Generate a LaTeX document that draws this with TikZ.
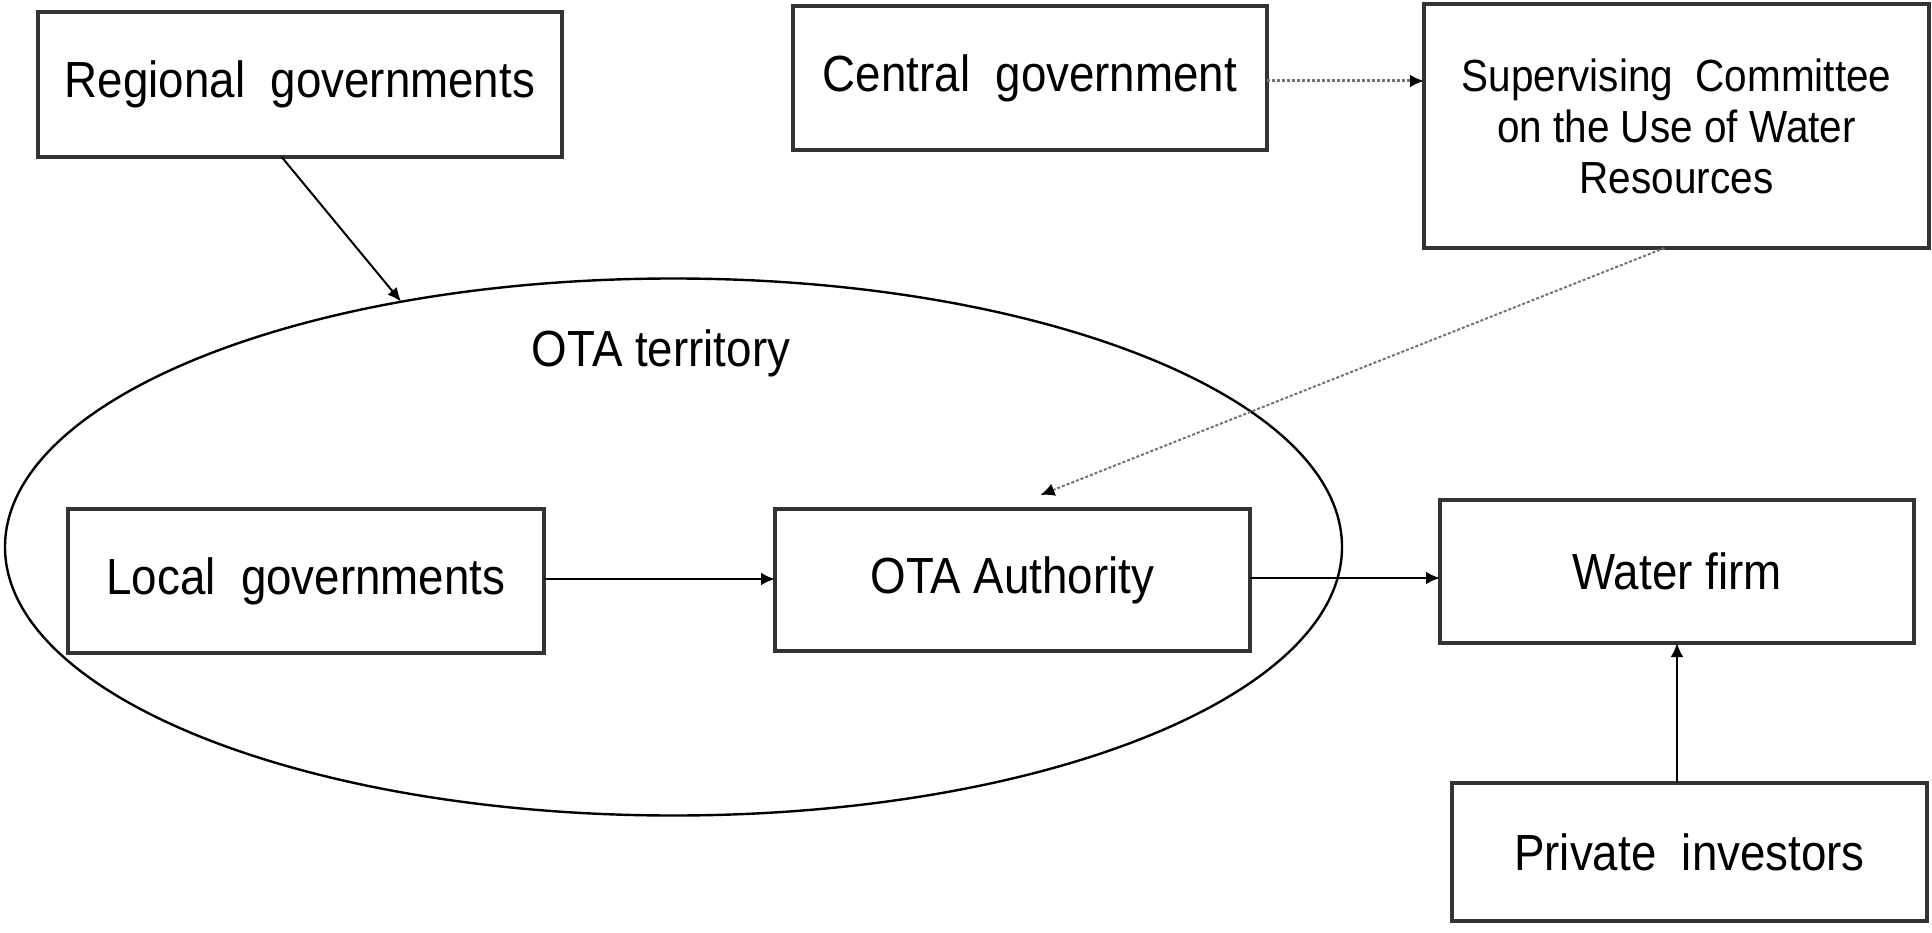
\documentclass[tikz,border=0pt]{standalone}
\usepackage{fontspec}
\setmainfont{Liberation Sans}[FakeStretch=0.9]
\usetikzlibrary{shapes.geometric,arrows.meta,calc}
\tikzset{
  box/.style={draw=black!80, line width=3.5pt, rectangle, inner sep=0pt, outer sep=0pt,
    align=center, font=\fontsize{50.8}{56}\selectfont},
  solidarrow/.style={draw=black, line width=2.8pt, -{Latex[length=14pt,width=13pt]}},
  dotarrow/.style={draw=black!55, line width=3pt, dash pattern=on 3pt off 2pt,
    -{Latex[length=14pt,width=13pt,fill=black,color=black]}},
  thinarrow/.style={draw=black, line width=2pt, -{Latex[length=14pt,width=12pt]}},
  label/.style={inner sep=0pt, font=\fontsize{50.8}{56}\selectfont}
}
\begin{document}
\begin{tikzpicture}[x=1pt,y=-1pt]
\useasboundingbox (0,0) rectangle (1932,933);
\fill[white] (0,0) rectangle (1932,933);
% territory ellipse
\node[ellipse, draw=black, line width=2.4pt, inner sep=0pt, outer sep=0pt,
  minimum width=1337pt, minimum height=537pt] (terr) at (673.5,547) {};
\node[label] (terrlabel) at (661,353) {OTA territory};
% boxes
\node[box, minimum width=524pt, minimum height=145pt] (reg) at (300,84.5) {Regional~ governments};
\node[box, minimum width=474pt, minimum height=144pt] (cen) at (1030,78) {Central~ government};
\node[box, minimum width=505pt, minimum height=244pt, font=\fontsize{45}{51}\selectfont] (sup) at (1676.5,126)
  {Supervising~ Committee\\on the Use of Water\\Resources};
\node[box, minimum width=476pt, minimum height=144pt] (loc) at (306,581) {Local~ governments};
\node[box, minimum width=475pt, minimum height=142pt] (ota) at (1012.5,580) {OTA Authority};
\node[box, minimum width=474pt, minimum height=143pt] (wat) at (1677,571.5) {Water firm};
\node[box, minimum width=475pt, minimum height=138pt] (pri) at (1689.5,852) {Private~ investors};
% connectors
\coordinate (regout) at ($(reg.south west)!0.465!(reg.south east)$);
\draw[thinarrow] (regout) -- (terr.138);
\draw[dotarrow] (cen.east |- 0,81) -- (sup.west |- 0,81);
\coordinate (supout) at ($(sup.south)+(-12,0)$);
\coordinate (otatop) at ($(ota.north)+(28,-14)$);
\draw[dotarrow, line width=2pt] (supout) -- (otatop);
\draw[solidarrow] (loc.east |- 0,579) -- (ota.west |- 0,579);
\draw[solidarrow] (ota.east |- 0,578) -- (wat.west |- 0,578);
\draw[solidarrow] (pri.north -| wat.south) -- (wat.south);
\end{tikzpicture}
\end{document}
